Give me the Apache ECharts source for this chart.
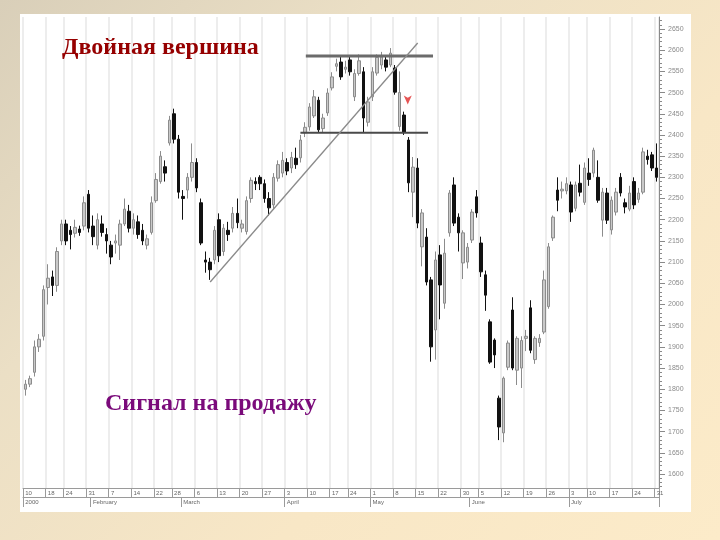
<!DOCTYPE html>
<html><head><meta charset="utf-8">
<script src="https://cdn.jsdelivr.net/npm/echarts@6/dist/echarts.min.js"></script>
<style>
html,body{margin:0;padding:0;width:720px;height:540px;overflow:hidden;
background:linear-gradient(135deg,#d9cfb9 0%,#ebdfc5 30%,#f8e7c6 65%,#fcebc9 100%);}
#c{width:720px;height:540px;}
</style></head><body><div id="c"></div>
<script>
const dates = [
'01-10','01-11','01-12','01-13','01-14','01-18','01-19','01-20','01-21','01-24','01-25','01-26','01-27','01-28','01-31',
'02-01','02-02','02-03','02-04','02-07','02-08','02-09','02-10','02-11','02-14','02-15','02-16','02-17','02-18','02-22','02-23','02-24','02-25','02-28','02-29',
'03-01','03-02','03-03','03-06','03-07','03-08','03-09','03-10','03-13','03-14','03-15','03-16','03-17','03-20','03-21','03-22','03-23','03-24','03-27','03-28','03-29','03-30','03-31',
'04-03','04-04','04-05','04-06','04-07','04-10','04-11','04-12','04-13','04-14','04-17','04-18','04-19','04-20','04-24','04-25','04-26','04-27','04-28',
'05-01','05-02','05-03','05-04','05-05','05-08','05-09','05-10','05-11','05-12','05-15','05-16','05-17','05-18','05-19','05-22','05-23','05-24','05-25','05-26','05-30','05-31',
'06-01','06-02','06-05','06-06','06-07','06-08','06-09','06-12','06-13','06-14','06-15','06-16','06-19','06-20','06-21','06-22','06-23','06-26','06-27','06-28','06-29','06-30',
'07-03','07-05','07-06','07-07','07-10','07-11','07-12','07-13','07-14','07-17','07-18','07-19','07-20','07-21','07-24','07-25','07-26','07-27','07-28','07-31'
];
const openV = [
1800,1812,1840,1900,1925,2040,2065,2045,2150,2190,2175,2168,2178,2185,2260,
2185,2140,2190,2165,2140,2145,2140,2190,2220,2180,2195,2175,2140,2170,2245,2290,2325,2381,2450,2390,
2255,2270,2300,2335,2240,2105,2100,2105,2200,2125,2175,2180,2215,2180,2172,2250,2290,2300,2285,2250,2235,2298,2310,
2335,2322,2345,2346,2405,2419,2445,2482,2415,2452,2511,2562,2572,2555,2577,2490,2545,2549,2430,
2490,2546,2565,2577,2565,2558,2420,2447,2388,2265,2322,2136,2159,2058,1940,2117,2003,2169,2282,2206,2098,2100,
2152,2254,2145,2070,1959,1916,1779,1697,1852,1987,1845,1850,1920,1992,1870,1910,1935,1995,2157,2270,2268,2268,
2282,2227,2286,2241,2310,2310,2300,2199,2263,2176,2218,2300,2240,2225,2290,2248,2265,2350,2353,2322
];
const closeV = [
1812,1825,1900,1918,2035,2062,2045,2125,2190,2150,2165,2182,2170,2240,2180,
2160,2200,2170,2150,2112,2150,2190,2225,2180,2200,2165,2150,2155,2240,2295,2350,2310,2435,2390,2265,
2250,2300,2335,2275,2145,2100,2082,2175,2115,2180,2165,2215,2193,2190,2245,2293,2285,2285,2250,2228,2300,2330,2340,
2315,2347,2330,2388,2418,2466,2490,2412,2440,2499,2537,2568,2537,2560,2549,2545,2575,2440,2478,
2549,2583,2584,2560,2593,2501,2500,2407,2287,2324,2192,2216,2053,1900,2105,2046,2121,2263,2192,2169,2169,2135,
2218,2216,2077,2022,1864,1881,1711,1826,1909,1850,1920,1915,1925,1892,1920,1920,2058,2136,2206,2246,2272,2285,
2218,2282,2265,2322,2295,2364,2246,2265,2199,2246,2265,2263,2230,2263,2235,2263,2360,2342,2322,2300
];
const lowV = [
1785,1805,1830,1888,1915,2000,2020,2030,2140,2140,2130,2158,2162,2175,2170,
2140,2130,2160,2120,2095,2120,2105,2185,2170,2165,2155,2140,2130,2165,2240,2285,2290,2375,2380,2250,
2200,2250,2290,2265,2140,2075,2058,2095,2100,2115,2150,2170,2180,2170,2165,2240,2270,2270,2240,2210,2225,2290,2300,
2305,2310,2320,2335,2395,2410,2440,2405,2405,2445,2505,2550,2530,2545,2540,2480,2540,2405,2420,
2480,2540,2555,2550,2560,2495,2410,2400,2265,2206,2180,2090,2045,1865,1870,1965,1990,2160,2185,2125,2060,2085,
2145,2205,2065,1985,1860,1850,1680,1675,1845,1845,1810,1803,1890,1885,1860,1900,1930,1990,2150,2220,2250,2260,
2195,2220,2255,2235,2280,2300,2240,2160,2190,2165,2210,2255,2215,2220,2225,2240,2260,2330,2315,2290
];
const highV = [
1822,1832,1915,1930,2045,2095,2080,2135,2200,2200,2185,2200,2186,2255,2270,
2210,2215,2210,2180,2150,2165,2200,2250,2235,2215,2210,2190,2165,2255,2310,2362,2340,2445,2462,2400,
2270,2310,2380,2345,2250,2125,2110,2185,2215,2190,2195,2230,2250,2200,2255,2300,2300,2305,2295,2265,2310,2340,2360,
2345,2360,2370,2400,2430,2475,2506,2490,2450,2510,2548,2580,2585,2575,2584,2555,2590,2560,2490,
2560,2590,2596,2585,2605,2565,2550,2455,2395,2348,2345,2225,2180,2065,2125,2140,2155,2270,2300,2215,2175,2145,
2225,2270,2160,2080,1965,1920,1785,1830,1915,2017,1925,1925,1940,2010,1925,1930,2080,2145,2210,2300,2290,2300,
2290,2290,2330,2335,2345,2370,2340,2275,2275,2255,2275,2310,2250,2280,2300,2275,2370,2365,2360,2380
];
const weekStartIdx = [0,5,9,14,19,24,29,33,38,43,48,53,58,63,68,72,77,82,87,92,97,101,106,111,116,121,125,130,135,140];
const monthStartIdx = [0,15,35,58,77,99,121];
const monthNames = ['2000','February','March','April','May','June','July'];
const yLabelValues = [1600,1650,1700,1750,1800,1850,1900,1950,2000,2050,2100,2150,2200,2250,2300,2350,2400,2450,2500,2550,2600,2650];
const resistanceLine = [[62.2,2586],[90.4,2586]];
const supportLine = [[61.0,2405],[89.3,2405]];
const trendLine = [[41.0,2053],[87.0,2617]];
const sellSignal = [[84.8,2472]];

const Y_MIN = 1567, Y_MAX = 2678.3;
const yMinor = [];
for (let v = 1570; v <= 2670; v += 10) yMinor.push(v);
const weekSet = new Set(weekStartIdx);
const monthSet = new Set(monthStartIdx);
const candles = dates.map((d,i)=>[openV[i],closeV[i],lowV[i],highV[i]]);
const gridBox = {left:23,right:61,top:17,bottom:52};

const chart = echarts.init(document.getElementById('c'), null, {renderer:'canvas'});
chart.setOption({
  animation:false,
  backgroundColor:'transparent',
  graphic:[{type:'rect',z:-10,shape:{x:20,y:14,width:671,height:498},style:{fill:'#ffffff'}}],
  title:[
    {text:'Двойная вершина',left:57,top:31,padding:5,textStyle:{fontFamily:'Liberation Serif',fontSize:24,color:'#960000',fontWeight:'bold'}},
    {text:'Сигнал на продажу',left:100,top:387,padding:5,textStyle:{fontFamily:'Liberation Serif',fontSize:24,color:'#7a0a7a',fontWeight:'bold'}}
  ],
  grid:[Object.assign({},gridBox),Object.assign({},gridBox)],
  xAxis:[
    {type:'category',gridIndex:0,data:dates,boundaryGap:true,
     axisLine:{onZero:false,lineStyle:{color:'#9a9a9a',width:1}},
     axisTick:{show:true,length:9,interval:(i)=>weekSet.has(i),lineStyle:{color:'#9a9a9a'}},
     axisLabel:{interval:(i)=>weekSet.has(i),formatter:(v)=>String(parseInt(v.slice(3),10)),fontSize:6,color:'#666',align:'left',margin:2,fontFamily:'Liberation Sans'},
     splitLine:{show:true,interval:(i)=>weekSet.has(i),lineStyle:{color:'#ededed',width:2}}},
    {type:'category',gridIndex:0,data:dates,boundaryGap:true,position:'bottom',offset:9,
     axisLine:{onZero:false,lineStyle:{color:'#9a9a9a',width:1}},
     axisTick:{show:true,length:10,interval:(i)=>monthSet.has(i),lineStyle:{color:'#9a9a9a'}},
     axisLabel:{interval:(i)=>monthSet.has(i),formatter:(v,i)=>monthNames[monthStartIdx.indexOf(i)]||'',fontSize:6,color:'#666',align:'left',margin:2,fontFamily:'Liberation Sans'},
     splitLine:{show:false}},
    {type:'value',gridIndex:0,min:-0.5,max:140.5,show:false,axisLine:{onZero:false}},
    {type:'value',gridIndex:1,min:0,max:1,show:false,axisLine:{onZero:false}}
  ],
  yAxis:[
    {type:'value',gridIndex:0,position:'right',min:Y_MIN,max:Y_MAX,
     axisLine:{show:true,onZero:false,lineStyle:{color:'#8a8a8a'}},
     axisTick:{show:true,customValues:yMinor,length:3,lineStyle:{color:'#8a8a8a'}},
     axisLabel:{customValues:yLabelValues,formatter:(v)=>String(v),fontSize:7,color:'#8a8a8a',margin:9,fontFamily:'Liberation Sans'},
     splitLine:{show:false}},
    {type:'value',gridIndex:1,position:'right',min:Y_MIN,max:Y_MAX,
     axisLine:{show:false,onZero:false},
     axisTick:{show:true,customValues:yLabelValues,length:6,lineStyle:{color:'#8a8a8a'}},
     axisLabel:{show:false},splitLine:{show:false}}
  ],
  series:[
    {type:'candlestick',xAxisIndex:0,yAxisIndex:0,data:candles,barWidth:3,
     itemStyle:{color:'#c9c9c9',color0:'#111111',borderColor:'#8c8c8c',borderColor0:'#111111',borderWidth:1}},
    {type:'line',xAxisIndex:2,yAxisIndex:0,data:resistanceLine,symbol:'none',lineStyle:{color:'#6b6b6b',width:3}},
    {type:'line',xAxisIndex:2,yAxisIndex:0,data:supportLine,symbol:'none',lineStyle:{color:'#4a4a4a',width:2}},
    {type:'line',xAxisIndex:2,yAxisIndex:0,data:trendLine,symbol:'none',lineStyle:{color:'#8a8a8a',width:1.3}},
    {type:'scatter',xAxisIndex:2,yAxisIndex:0,data:sellSignal,symbol:'arrow',symbolRotate:180,symbolSize:[6,9],itemStyle:{color:'#e02a2a'}}
  ]
});
</script></body></html>
